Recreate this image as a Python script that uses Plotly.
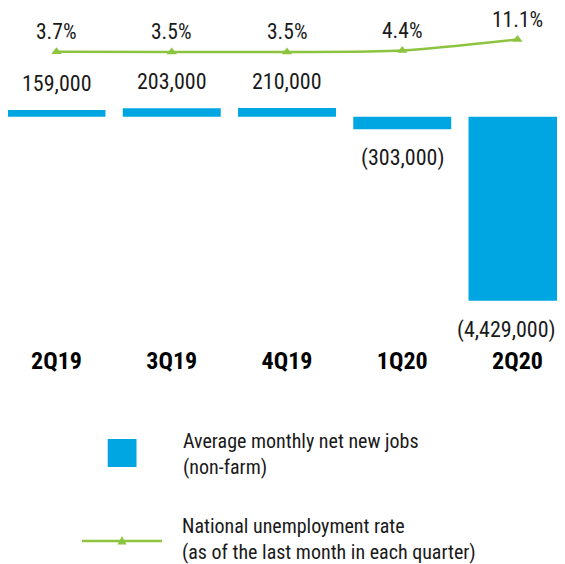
import plotly.graph_objects as go

quarters = ["2Q19", "3Q19", "4Q19", "1Q20", "2Q20"]
net_jobs = [159000, 203000, 210000, -303000, -4429000]
job_labels = ["159,000", "203,000", "210,000", "(303,000)", "(4,429,000)"]
unemp_rate = [3.7, 3.5, 3.5, 4.4, 11.1]
rate_labels = ["3.7%", "3.5%", "3.5%", "4.4%", "11.1%"]

BLUE = "#00A6E1"
GREEN = "#8CC43F"
TXT = "#1a1a1a"
FONT = "Liberation Sans Narrow, Arial Narrow, Roboto Condensed, sans-serif"

OFF = 8  # page body margin
W, H = 565 - 2 * OFF, 564 - OFF


def fy(p):  # screen y pixel -> figure y pixel
    return p - OFF


def fx(p):
    return p - OFF


plot_bottom = fy(344.0)
dom_bottom = 1 - plot_bottom / H
plot_h = plot_bottom
base_px = fy(116.7)
per_px = 4429000 / 184.0
y_top = base_px * per_px
y_bot = -(plot_h - base_px) * per_px

r_px = 1.645
r_ref_px = fy(52.0)
r_top = 3.5 + r_ref_px / r_px
r_bot = 3.5 - (plot_h - r_ref_px) / r_px

c0 = fx(56.5)
step = 115.25
x_lo = -c0 / step
x_hi = (W - c0) / step

fig = go.Figure()
fig.add_trace(go.Bar(x=quarters, y=net_jobs, marker_color=BLUE, width=0.85,
                     marker_line_width=0, showlegend=False, hoverinfo="skip"))
fig.add_trace(go.Scatter(x=quarters, y=unemp_rate, yaxis="y2", mode="lines+markers",
                         line=dict(color=GREEN, width=2.5, shape="spline", smoothing=0.8),
                         marker=dict(symbol="triangle-up", size=9, color=GREEN),
                         showlegend=False, hoverinfo="skip"))

ann = []
last = len(quarters) - 1
for i, (q, v, t) in enumerate(zip(quarters, net_jobs, job_labels)):
    if v >= 0:
        ann.append(dict(x=q, y=v, text=t, showarrow=False, yanchor="bottom", yshift=12,
                        font=dict(size=22, color=TXT, family=FONT)))
    elif i == last:
        ann.append(dict(x=1, xref="paper", y=v, text=t, showarrow=False, yanchor="top",
                        xanchor="right", xshift=1, yshift=-14,
                        font=dict(size=22, color=TXT, family=FONT)))
    else:
        ann.append(dict(x=q, y=v, text=t, showarrow=False, yanchor="top", yshift=-14,
                        font=dict(size=22, color=TXT, family=FONT)))
for q, v, t in zip(quarters, unemp_rate, rate_labels):
    ann.append(dict(x=q, y=v, yref="y2", text=t, showarrow=False, yanchor="bottom", yshift=6,
                    font=dict(size=21.5, color=TXT, family=FONT)))

# legend
ann.append(dict(x=fx(181) / W, y=1 - fy(453.5) / H, xref="paper", yref="paper", xanchor="left",
                yanchor="middle", align="left", showarrow=False,
                text="Average monthly net new jobs<br>(non-farm)",
                font=dict(size=20, color=TXT, family=FONT)))
ann.append(dict(x=fx(181) / W, y=1 - fy(538.5) / H, xref="paper", yref="paper", xanchor="left",
                yanchor="middle", align="left", showarrow=False, borderpad=0,
                text="National unemployment rate<br>(as of the last month in each quarter)",
                font=dict(size=20, color=TXT, family=FONT)))

shapes = [
    dict(type="rect", xref="paper", yref="paper", x0=fx(107.7) / W, x1=fx(136.5) / W,
         y0=1 - fy(467) / H, y1=1 - fy(439) / H, fillcolor=BLUE, line_width=0),
    dict(type="line", xref="paper", yref="paper", x0=fx(82) / W, x1=fx(162) / W,
         y0=1 - fy(541) / H, y1=1 - fy(541) / H, line=dict(color=GREEN, width=2.5)),
    dict(type="path", xref="paper", yref="paper",
         path=(f"M {fx(122)/W} {1-fy(536)/H} L {fx(117.5)/W} {1-fy(544.5)/H} "
               f"L {fx(126.5)/W} {1-fy(544.5)/H} Z"),
         fillcolor=GREEN, line_width=0),
]

fig.update_layout(
    width=W, height=H, margin=dict(l=0, r=0, t=0, b=0),
    paper_bgcolor="white", plot_bgcolor="white",
    bargap=0.15,
    xaxis=dict(type="category", range=[x_lo, x_hi], showgrid=False, zeroline=False,
               showline=False, ticks="", tickfont=dict(size=24, color="#000", family=FONT),
               tickvals=quarters, ticktext=[f"<b>{q}</b>" for q in quarters]),
    yaxis=dict(domain=[dom_bottom, 1], range=[y_bot, y_top], showgrid=False, zeroline=False,
               showticklabels=False, showline=False),
    yaxis2=dict(domain=[dom_bottom, 1], range=[r_bot, r_top], overlaying="y", showgrid=False,
                zeroline=False, showticklabels=False, showline=False),
    annotations=ann, shapes=shapes,
)

fig.write_html("out.html")
